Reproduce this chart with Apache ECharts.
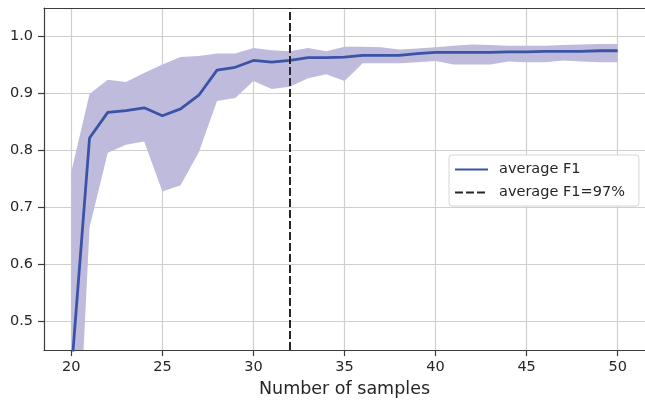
<!DOCTYPE html>
<html>
<head>
<meta charset="utf-8">
<script src="https://cdn.jsdelivr.net/npm/echarts@6/dist/echarts.min.js"></script>
<style>
  html, body { margin: 0; padding: 0; background: #fff; }
  #chart { width: 645px; height: 403px; }
</style>
</head>
<body>
<div id="chart"></div>
<script>
// number of samples
const samples = [20, 21, 22, 23, 24, 25, 26, 27, 28, 29, 30, 31, 32, 33, 34, 35,
  36, 37, 38, 39, 40, 41, 42, 43, 44, 45, 46, 47, 48, 49, 50]
// mean F1 per sample count
const avgF1 = [0.41, 0.822, 0.867, 0.870, 0.875, 0.861, 0.873, 0.897, 0.941, 0.946,
  0.958, 0.955, 0.958, 0.963, 0.963, 0.964, 0.967, 0.967, 0.967, 0.970, 0.972,
  0.972, 0.972, 0.972, 0.973, 0.973, 0.974, 0.974, 0.974, 0.975, 0.975]
// spread band
const upperF1 = [0.763, 0.899, 0.924, 0.920, 0.936, 0.951, 0.964, 0.966, 0.970, 0.970,
  0.980, 0.976, 0.974, 0.980, 0.974, 0.982, 0.982, 0.981, 0.977, 0.979, 0.981,
  0.984, 0.986, 0.985, 0.984, 0.984, 0.984, 0.985, 0.986, 0.987, 0.987]
const lowerF1 = [0.01, 0.665, 0.796, 0.810, 0.816, 0.728, 0.739, 0.797, 0.887, 0.892,
  0.922, 0.908, 0.912, 0.927, 0.934, 0.922, 0.953, 0.953, 0.953, 0.955, 0.957,
  0.951, 0.951, 0.951, 0.956, 0.955, 0.955, 0.958, 0.956, 0.955, 0.955]
const markX = 32
const xTicks = [20, 25, 30, 35, 40, 45, 50]
const yTicks = [0.5, 0.6, 0.7, 0.8, 0.9, 1.0]

const textColor = '#262626'
const font = 'DejaVu Sans'
const spine = '#3c3c3c'

const chart = echarts.init(document.getElementById('chart'))

const axisCommon = {
  type: 'value',
  axisLine: { show: true, lineStyle: { color: spine, width: 1.2 } },
  axisTick: { show: true, length: 6, lineStyle: { color: spine, width: 1.2 } },
  splitLine: { show: true, lineStyle: { color: '#cfcfcf', width: 1.2 } },
  axisLabel: { color: textColor, fontFamily: font, fontSize: 14.5 }
}

// whole band as one polygon: upper edge forward, lower edge back
const renderBand = (params, api) => {
  if (params.dataIndex !== 0) return
  const pts = []
  for (let i = 0; i < samples.length; i++) pts.push(api.coord([samples[i], upperF1[i]]))
  for (let i = samples.length - 1; i >= 0; i--) pts.push(api.coord([samples[i], lowerF1[i]]))
  return {
    type: 'polygon',
    shape: { points: pts },
    style: { fill: '#bebbdd' }
  }
}

chart.setOption({
  backgroundColor: '#fff',
  animation: false,
  grid: { left: 44, right: -2.4, top: 8, bottom: 51 },
  legend: {
    data: ['average F1', 'average F1=97%'],
    orient: 'vertical',
    left: 449, top: 155,
    itemWidth: 33, itemHeight: 14, itemGap: 8,
    padding: [7, 14, 6, 5],
    backgroundColor: '#fff',
    borderColor: '#d6d6d6', borderWidth: 1, borderRadius: 3,
    itemStyle: { opacity: 0 },
    textStyle: { color: textColor, fontFamily: font, fontSize: 14.5, padding: [0, 0, 0, 6] }
  },
  xAxis: [
    {
      ...axisCommon,
      min: 18.5, max: 51.5,
      axisLabel: { ...axisCommon.axisLabel, margin: 10, customValues: xTicks },
      axisTick: { ...axisCommon.axisTick, customValues: xTicks },
      name: 'Number of samples',
      nameLocation: 'middle',
      nameGap: 29,
      nameTextStyle: { color: textColor, fontFamily: font, fontSize: 17.5 }
    },
    {
      // top spine only
      type: 'value',
      position: 'top',
      min: 18.5, max: 51.5,
      axisLine: { show: true, onZero: false, lineStyle: { color: spine, width: 1.2 } },
      axisTick: { show: false },
      axisLabel: { show: false },
      splitLine: { show: false }
    }
  ],
  yAxis: {
    ...axisCommon,
    min: 0.45, max: 1.05,
    axisLabel: {
      ...axisCommon.axisLabel, margin: 11, customValues: yTicks,
      formatter: v => v.toFixed(1)
    },
    axisTick: { ...axisCommon.axisTick, customValues: yTicks }
  },
  series: [
    {
      name: 'band',
      type: 'custom',
      clip: true,
      silent: true,
      renderItem: renderBand,
      data: samples.map((x, i) => [x, lowerF1[i], upperF1[i]]),
      z: 1
    },
    {
      name: 'average F1',
      type: 'line',
      symbol: 'none',
      color: '#3a53a4',
      lineStyle: { color: '#3a53a4', width: 2.8 },
      data: samples.map((x, i) => [x, avgF1[i]]),
      z: 3
    },
    {
      name: 'average F1=97%',
      type: 'line',
      symbol: 'none',
      color: '#262626',
      lineStyle: { color: '#262626', width: 2, type: [8, 3] },
      data: [],
      markLine: {
        silent: true,
        symbol: ['none', 'none'],
        label: { show: false },
        lineStyle: { color: '#262626', width: 2, type: [8, 3] },
        data: [{ xAxis: markX }]
      },
      z: 4
    }
  ]
})
</script>
</body>
</html>
